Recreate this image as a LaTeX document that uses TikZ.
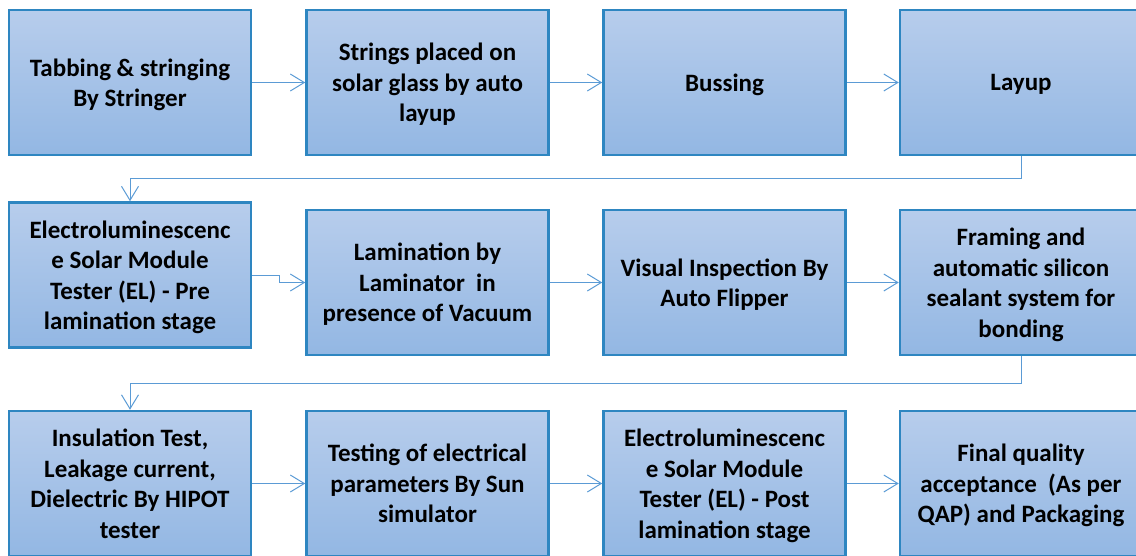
\documentclass[tikz,border=0pt]{standalone}
\usepackage{fontspec}
\setmainfont{Carlito}
\usetikzlibrary{arrows.meta}
\definecolor{boxtop}{RGB}{183,205,236}
\definecolor{boxbot}{RGB}{147,183,227}
\definecolor{boxline}{RGB}{46,134,193}
\definecolor{linkcol}{RGB}{91,155,213}
\begin{document}
\begin{tikzpicture}[x=1pt, y=-1pt, font=\fontsize{25}{30.5}\selectfont\bfseries,
	stepbox/.style={draw=boxline, line width=2.5pt, top color=boxtop, bottom color=boxbot, minimum width=242pt, minimum height=145pt, align=center, inner sep=2pt, text depth=0pt},
	link/.style={draw=linkcol, line width=1pt, -{Straight Barb[length=14pt,width=17pt]}}]
	\useasboundingbox (0,0) rectangle (1136,555);
	% first row
	\node[stepbox] (tab) at (130,82.5) {Tabbing \& stringing\\By Stringer};
	\node[stepbox] (glass) at (427.5,82.5) {Strings placed on\\solar glass by auto\\layup};
	\node[stepbox] (bus) at (724.5,82.5) {Bussing};
	\node[stepbox] (layup) at (1021,82.5) {Layup};
	% second row
	\node[stepbox] (elpre) at (130,275) {Electroluminescenc\\e Solar Module\\Tester (EL) - Pre\\lamination stage};
	\node[stepbox] (lam) at (427.5,282.5) {Lamination by\\Laminator\ \ in\\presence of Vacuum};
	\node[stepbox] (flip) at (724.5,282.5) {Visual Inspection By\\Auto Flipper};
	\node[stepbox] (frame) at (1021,282.5) {Framing and\\automatic silicon\\sealant system for\\bonding};
	% third row
	\node[stepbox] (hipot) at (130,483.5) {Insulation Test,\\Leakage current,\\Dielectric By HIPOT\\tester};
	\node[stepbox] (sun) at (427.5,483.5) {Testing of electrical\\parameters By Sun\\simulator};
	\node[stepbox] (elpost) at (724.5,483.5) {Electroluminescenc\\e Solar Module\\Tester (EL) - Post\\lamination stage};
	\node[stepbox] (qap) at (1021,483.5) {Final quality\\acceptance\ \ (As per\\QAP) and Packaging};
	% connectors
	\draw[link] (tab) -- (glass);
	\draw[link] (glass) -- (bus);
	\draw[link] (bus) -- (layup);
	\draw[link] (layup.south) -- ++(0,22) -| (elpre.north);
	\draw[link] (elpre.east) -- ++(27,0) |- (lam.west);
	\draw[link] (lam) -- (flip);
	\draw[link] (flip) -- (frame);
	\draw[link] (frame.south) -- ++(0,27) -| (hipot.north);
	\draw[link] (hipot) -- (sun);
	\draw[link] (sun) -- (elpost);
	\draw[link] (elpost) -- (qap);
\end{tikzpicture}
\end{document}
